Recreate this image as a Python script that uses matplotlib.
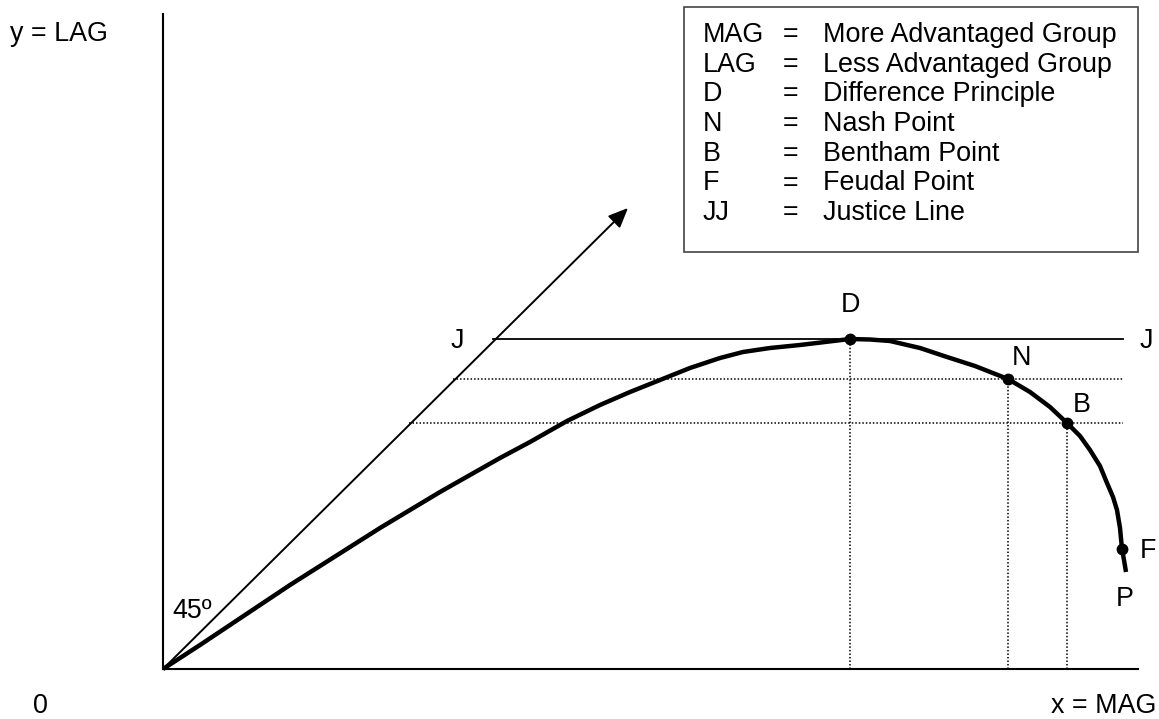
import matplotlib.pyplot as plt
from matplotlib.patches import Rectangle

plt.rcParams['font.family'] = ['Liberation Sans', 'DejaVu Sans']

# utility frontier (MAG on x, LAG on y)
curve_x = [0, 17, 37, 67, 97, 127, 157, 187, 217, 247, 277, 307, 337, 367, 404,
           437, 467, 497, 527, 557, 580, 607, 637, 662, 687, 707, 727, 757, 784,
           812, 845, 867, 887, 904, 917, 927, 937, 944, 950, 954, 957, 959, 961, 963]
curve_y = [0, 11, 24, 44, 64, 84, 103, 122, 141, 159, 177, 194, 211, 227, 248,
           264, 277, 289, 301, 311, 317, 321, 324, 327, 330, 329.5, 328, 321, 312,
           303, 290, 277, 262, 246, 233, 219, 203, 186, 172, 159, 141, 120, 109, 97]

# named points on the frontier
pt_names = ['D', 'N', 'B', 'F']
pt_x = [687, 845, 904, 959]
pt_y = [330, 290, 246, 120]

justice_level = 330
axis_xmax = 975
axis_ymax = 655
arrow_end = (465, 461)

legend_abbr = ['MAG', 'LAG', 'D', 'N', 'B', 'F', 'JJ']
legend_desc = ['More Advantaged Group', 'Less Advantaged Group', 'Difference Principle',
               'Nash Point', 'Bentham Point', 'Feudal Point', 'Justice Line']

fig = plt.figure(figsize=(11.59, 7.19), dpi=100)
ax = fig.add_axes([0, 0, 1, 1])
ax.set_xlim(-163, 996)
ax.set_ylim(-50, 669)
ax.axis('off')

fs = 19.4

# axes
ax.plot([0, 0], [0, axis_ymax], color='black', lw=1.5)
ax.plot([0, axis_xmax], [0, 0], color='black', lw=1.5)

# 45 degree line with arrow
ax.annotate('', xy=arrow_end, xytext=(0, 0),
            arrowprops=dict(arrowstyle='-|>,head_length=0.6,head_width=0.26',
                            color='black', lw=1.4,
                            mutation_scale=20, shrinkA=0, shrinkB=0))

# justice line JJ
ax.plot([justice_level, 960], [justice_level, justice_level], color='black', lw=1.3)

# dotted guides for D, N and B
for nm, px, py in zip(pt_names, pt_x, pt_y):
    if nm == 'F':
        continue
    ax.plot([px, px], [0, py], color='black', lw=1.1, ls=(0, (1, 1.3)))
    if nm != 'D':
        ax.plot([py, 960], [py, py], color='black', lw=1.1, ls=(0, (1, 1.3)))

# frontier
ax.plot(curve_x, curve_y, color='black', lw=3.2, solid_capstyle='butt',
        solid_joinstyle='round')
ax.plot(pt_x, pt_y, 'o', color='black', ms=7.5)

# point labels
ax.text(687, 364, 'D', fontsize=fs, ha='center', va='center')
ax.text(859, 311, 'N', fontsize=fs, ha='center', va='center')
ax.text(919, 264, 'B', fontsize=fs, ha='center', va='center')
ax.text(985, 118, 'F', fontsize=fs, ha='center', va='center')
ax.text(962, 70, 'P', fontsize=fs, ha='center', va='center')
ax.text(294, 328, 'J', fontsize=fs, ha='center', va='center')
ax.text(983, 328, 'J', fontsize=fs, ha='center', va='center')
ax.text(9, 58, '45º', fontsize=fs, ha='left', va='center')

# axis labels
ax.text(-153, 635, 'y = LAG', fontsize=fs, ha='left', va='center')
ax.text(-123, -37, '0', fontsize=fs, ha='center', va='center')
ax.text(993, -37, 'x = MAG', fontsize=fs, ha='right', va='center')

# legend box
ax.add_patch(Rectangle((521, 417), 454, 245, fill=False, edgecolor='#444444', lw=1.2))
for i, (ab, ds) in enumerate(zip(legend_abbr, legend_desc)):
    yy = 634 - i * 29.7
    ax.text(540, yy, ab, fontsize=fs, ha='left', va='center')
    ax.text(628, yy, '=', fontsize=fs, ha='center', va='center')
    ax.text(660, yy, ds, fontsize=fs, ha='left', va='center')

fig.savefig('out.png', dpi=100)
